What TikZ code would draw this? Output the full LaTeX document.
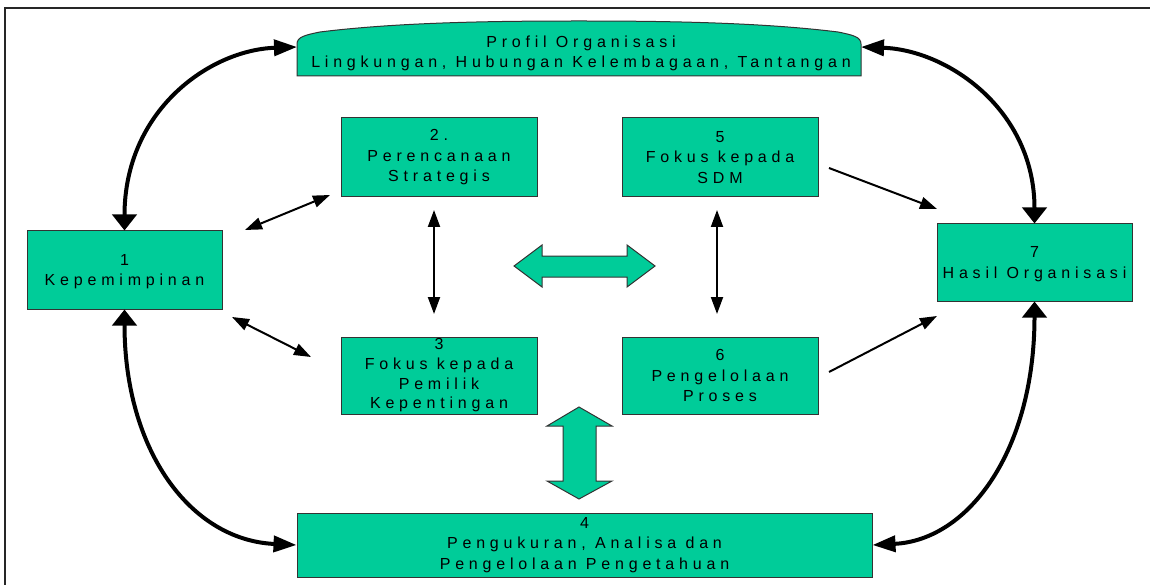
\documentclass[tikz,border=0pt]{standalone}
\usepackage{fontspec}
\setmainfont{Liberation Sans}
\newfontfamily\labfont[LetterSpace=30]{Liberation Sans}
\usetikzlibrary{arrows.meta,calc}
\definecolor{boxgreen}{HTML}{00CC99}
\definecolor{edgegray}{HTML}{333333}
\tikzset{
  box/.style={draw=edgegray, line width=1pt, fill=boxgreen, inner sep=0pt, align=center,
    font={\labfont\fontsize{16}{20.5}\selectfont}},
  txt/.style={inner sep=0pt, align=center, font={\labfont\fontsize{16}{20}\selectfont}},
  bigline/.style={line width=4pt, draw=black},
  headwide/.tip={Triangle[length=16pt,width=24pt]},
  headlong/.tip={Triangle[length=23pt,width=16pt]},
  thinline/.style={line width=2pt, draw=black},
  headthin/.tip={Triangle[length=17pt,width=12pt]},
  blockarrow/.style={draw=edgegray, line width=1pt, fill=boxgreen, line join=miter},
}
\begin{document}
\begin{tikzpicture}[x=1pt,y=-1pt]
\useasboundingbox (0,0) rectangle (1150,585);
% frame
\draw[line width=2pt, draw=black!85] (5,585) -- (5,8) -- (1150,8);

% top shape
\draw[draw=edgegray, line width=1pt, fill=boxgreen]
  (297,76) -- (297,44) .. controls (297,37) and (305,35) .. (320,32)
  .. controls (400,22) and (500,21) .. (579,21)
  .. controls (658,21) and (758,22) .. (838,32)
  .. controls (853,35) and (861,37) .. (861,44) -- (861,76) -- cycle;
\node[txt] (prof) at (581,53) {Profil Organisasi\\Lingkungan, Hubungan Kelembagaan, Tantangan};
\coordinate (pl) at (297,47);
\coordinate (pr) at (861,47);

% boxes
\node[box, minimum width=195pt, minimum height=78pt] (b1) at (124.5,270) {\strut 1\\Kepemimpinan};
\node[box, minimum width=196pt, minimum height=79pt] (b2) at (439,157.5) {2.\\Perencanaan\\Strategis};
\node[box, minimum width=196pt, minimum height=79pt] (b5) at (720,157.5) {5\\Fokus kepada\\SDM};
\node[box, minimum width=196pt, minimum height=77pt, font={\labfont\fontsize{16}{19.7}\selectfont}] (b3) at (439,375.5) {3\\Fokus kepada\\Pemilik\\Kepentingan};
\node[box, minimum width=196pt, minimum height=77pt] (b6) at (720,375.5) {6\\Pengelolaan\\Proses};
\node[box, minimum width=195pt, minimum height=77pt] (b7) at (1034.5,262.5) {\strut 7\\Hasil Organisasi};
\node[box, minimum width=575pt, minimum height=64pt] (b4) at (584.5,545) {4\\Pengukuran, Analisa dan\\Pengelolaan Pengetahuan};

% big curved arrows
\draw[bigline, {headwide}-{headlong}] (b1.north) .. controls (124.5,110) and (210,50) .. (pl);
\draw[bigline, {headlong}-{headwide}] (pr) .. controls (948,50) and (1034.5,110) .. (b7.north);
\draw[bigline, {headwide}-{headlong}] (b1.south) .. controls (124.5,450) and (190,540) .. (b4.west);
\draw[bigline, {headwide}-{headlong}] (b7.south) .. controls (1034.5,450) and (969,540) .. (b4.east);

% thin arrows
\coordinate (a12s) at (245,230);
\coordinate (a12e) at (330,195);
\coordinate (a13s) at (232,317);
\coordinate (a13e) at (311,357);
\coordinate (a23s) at (434,210);
\coordinate (a23e) at (434,314);
\coordinate (a56s) at (717,210);
\coordinate (a56e) at (717,314);
\coordinate (a57s) at (829,168);
\coordinate (a57e) at (937,209);
\coordinate (a67s) at (829,372);
\coordinate (a67e) at (937,316);
\draw[thinline, {headthin}-{headthin}] (a12s) -- (a12e);
\draw[thinline, {headthin}-{headthin}] (a13s) -- (a13e);
\draw[thinline, {headthin}-{headthin}] (a23s) -- (a23e);
\draw[thinline, {headthin}-{headthin}] (a56s) -- (a56e);
\draw[thinline, -{headthin}] (a57s) -- (a57e);
\draw[thinline, -{headthin}] (a67s) -- (a67e);

% block arrows
\draw[blockarrow] (514,266) -- (542,245) -- (542,256) -- (627,256) -- (627,245) -- (655,266)
  -- (627,287) -- (627,277) -- (542,277) -- (542,287) -- cycle;
\draw[blockarrow] (579,407) -- (612,426) -- (596,426) -- (596,481) -- (612,481) -- (579,499)
  -- (547,481) -- (563,481) -- (563,426) -- (547,426) -- cycle;
\end{tikzpicture}
\end{document}
